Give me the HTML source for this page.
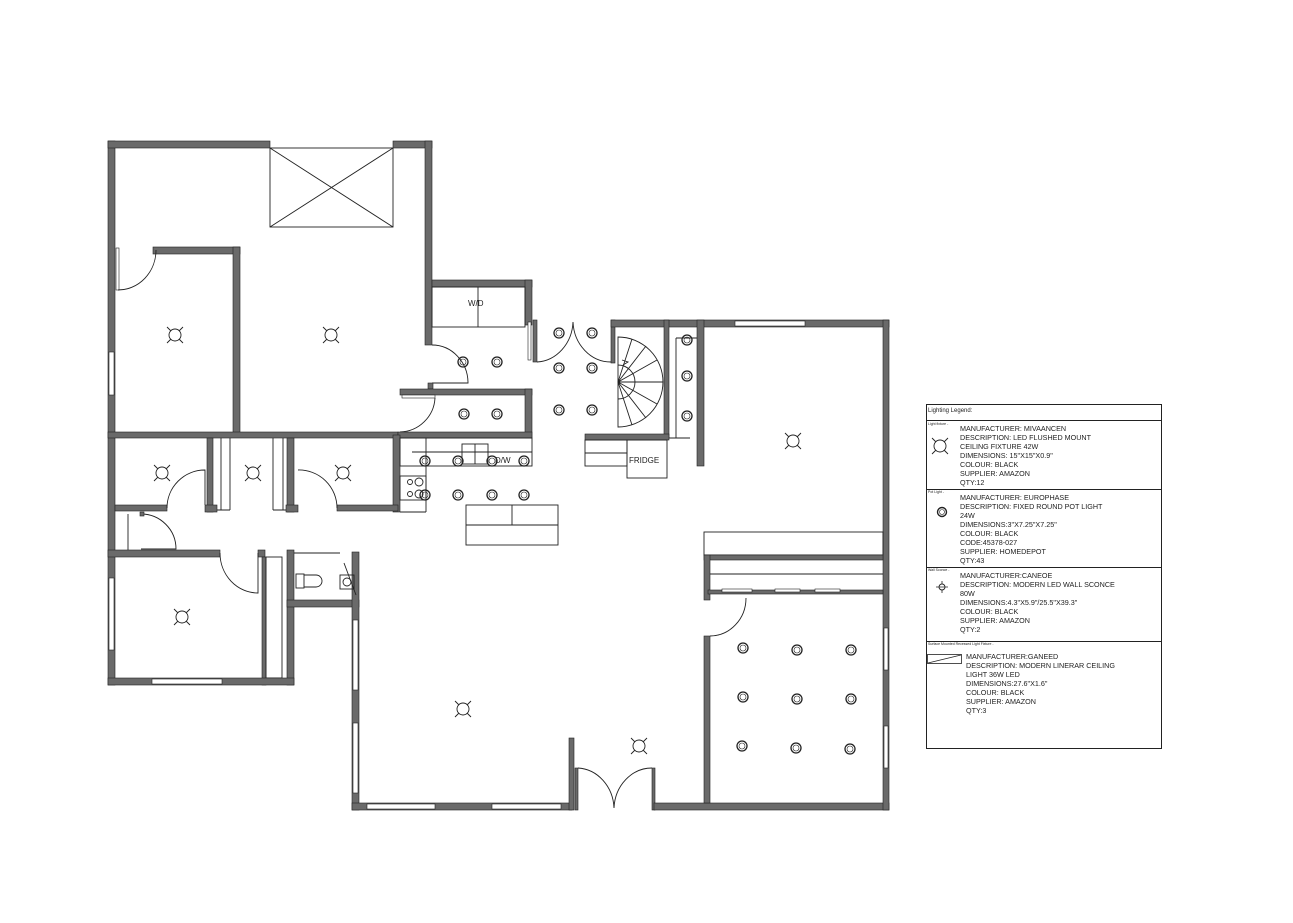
<!DOCTYPE html>
<html><head><meta charset="utf-8"><style>
html,body{margin:0;padding:0;background:#fff;}
svg{display:block;}
text{font-family:"Liberation Sans",sans-serif;fill:#222;}
.w{fill:#6a6a6a;stroke:#222;stroke-width:0.6;}
.l{fill:none;stroke:#222;stroke-width:0.9;}
.win{fill:#fff;stroke:#222;stroke-width:0.6;}
.p{fill:none;stroke:#222;stroke-width:1.1;}
</style></head><body>
<svg width="1293" height="923" viewBox="0 0 1293 923" xmlns="http://www.w3.org/2000/svg">
<defs>
<g id="fx"><circle r="6" fill="none" stroke="#222" stroke-width="0.9"/><path d="M-8,-8 L-4,-4 M8,-8 L4,-4 M-8,8 L-4,4 M8,8 L4,4" stroke="#222" stroke-width="0.9"/></g>
<g id="pl"><circle r="5" fill="none" stroke="#222" stroke-width="1.3"/><circle r="3" fill="none" stroke="#222" stroke-width="0.6"/></g>
</defs>
<rect width="1293" height="923" fill="#fff"/>

<!-- top-left block -->
<rect class="w" x="108" y="141" width="7" height="544"/>
<rect class="w" x="108" y="141" width="162" height="7"/>
<rect class="w" x="393" y="141" width="39" height="7"/>
<rect class="w" x="425" y="141" width="7" height="204"/>
<rect class="l" x="270" y="148" width="123" height="79"/>
<path class="l" d="M270,148 L393,227 M393,148 L270,227"/>
<rect class="win" x="109" y="352" width="5" height="43"/>
<rect class="w" x="153" y="247" width="87" height="7"/>
<rect class="w" x="233" y="247" width="7" height="188"/>
<rect class="win" x="116" y="248" width="3" height="42"/>
<path class="l" d="M118,290 A38,40 0 0 0 156,250"/>
<rect class="w" x="108" y="432" width="290" height="6"/>

<!-- W/D + hall -->
<rect class="w" x="432" y="280" width="100" height="7"/>
<rect class="w" x="525" y="280" width="7" height="45"/>
<rect class="l" x="432" y="287" width="93" height="40"/>
<path class="l" d="M478,287 V327"/>
<text x="468" y="306" font-size="8">W/D</text>
<rect class="win" x="528" y="322" width="3" height="38"/>
<path class="l" d="M432,345 A36,38 0 0 1 468,383 L432,383"/>
<rect class="w" x="428" y="383" width="5" height="6"/>
<rect class="w" x="400" y="389" width="132" height="6"/>
<rect class="w" x="525" y="389" width="7" height="49"/>
<rect class="win" x="402" y="395" width="33" height="3"/>
<path class="l" d="M435,398 A36,36 0 0 1 400,432"/>
<rect class="w" x="398" y="432" width="134" height="6"/>

<!-- kitchen -->
<rect class="w" x="393" y="435" width="7" height="77"/>
<rect class="l" x="400" y="438" width="132" height="28"/>
<path class="l" d="M412,452 H532 M426,452 V512 M400,512 H426 M426,438 V452"/>
<rect class="l" x="462" y="444" width="26" height="20"/>
<path class="l" d="M475,444 V464"/>
<text x="495" y="463" font-size="8">D/W</text>
<rect class="l" x="400" y="476" width="26" height="24"/>
<circle class="l" cx="419" cy="482" r="4"/><circle class="l" cx="419" cy="494" r="4"/><circle class="l" cx="410" cy="482" r="2.5"/><circle class="l" cx="410" cy="494" r="2.5"/>
<rect class="l" x="466" y="505" width="92" height="40"/>
<path class="l" d="M466,525 H558 M512,505 V525"/>

<!-- doors middle -->
<rect class="w" x="533" y="320" width="4" height="42"/>
<path class="l" d="M537,362 A38,42 0 0 0 573,322 A38,42 0 0 0 611,362"/>
<rect class="w" x="611" y="320" width="4" height="43"/>

<!-- stair + pantry -->
<rect class="w" x="611" y="320" width="278" height="7"/>
<rect class="win" x="735" y="321" width="70" height="5"/>
<rect class="w" x="664" y="320" width="5" height="118"/>
<rect class="w" x="697" y="320" width="7" height="146"/>
<path class="l" d="M676,338 H697 M676,338 V438 M669,438 H690"/>
<path class="l" d="M618,337 A45,45 0 0 1 618,427 Z"/>
<path class="l" d="M618,365 A17,17 0 0 1 618,399"/>
<path class="l" d="M618,382 L663,382 M618,382 L657,360 M618,382 L657,404 M618,382 L646,346 M618,382 L646,418 M618,382 L632,339 M618,382 L632,425"/>
<path class="l" d="M622,360 l6,2 l-5,3"/>
<rect class="w" x="585" y="434" width="84" height="6"/>
<rect class="l" x="585" y="440" width="42" height="26"/>
<path class="l" d="M585,453 H627"/>
<rect class="l" x="627" y="440" width="40" height="38"/>
<text x="629" y="463" font-size="8">FRIDGE</text>

<!-- bedroom row -->
<rect class="w" x="207" y="438" width="6" height="74"/>
<rect class="w" x="287" y="438" width="7" height="74"/>
<path class="l" d="M221,438 V510 M230,438 V510 M273,438 V510 M283,438 V510 M213,510 H230 M273,510 H287"/>
<rect class="w" x="115" y="505" width="52" height="6"/>
<rect class="w" x="205" y="505" width="12" height="7"/>
<rect class="w" x="286" y="505" width="12" height="7"/>
<rect class="w" x="337" y="505" width="61" height="6"/>
<path class="l" d="M167,508 A38,38 0 0 1 205,470 V505"/>
<path class="l" d="M298,470 A38,38 0 0 1 337,508"/>
<path class="l" d="M128,514 V550 M141,514 A35,35 0 0 1 176,549 L141,549"/>
<rect class="w" x="140" y="512" width="4" height="4"/>
<rect class="w" x="108" y="550" width="112" height="7"/>
<rect class="w" x="258" y="550" width="7" height="7"/>
<path class="l" d="M220,553 A38,40 0 0 0 258,593 V553"/>
<rect class="w" x="262" y="557" width="4" height="128"/>
<rect class="l" x="266" y="557" width="16" height="121"/>
<rect class="w" x="287" y="550" width="7" height="135"/>
<rect class="win" x="109" y="578" width="5" height="72"/>
<rect class="w" x="108" y="678" width="186" height="7"/>
<rect class="win" x="152" y="679" width="70" height="5"/>
<!-- bath -->
<path class="l" d="M294,553 H340"/>
<rect class="w" x="287" y="600" width="72" height="7"/>
<rect class="w" x="352" y="552" width="7" height="258"/>
<rect class="l" x="296" y="574" width="8" height="14"/>
<path class="l" d="M304,575 H316 A6,6 0 0 1 316,587 H304"/>
<rect class="l" x="340" y="575" width="14" height="14"/>
<circle class="l" cx="347" cy="582" r="4"/>
<path class="l" d="M344,563 L356,595"/>

<!-- living -->
<rect class="win" x="353" y="620" width="5" height="70"/>
<rect class="win" x="353" y="723" width="5" height="70"/>
<rect class="w" x="352" y="803" width="220" height="7"/>
<rect class="win" x="367" y="804" width="68" height="5"/>
<rect class="win" x="492" y="804" width="69" height="5"/>
<rect class="w" x="569" y="738" width="5" height="72"/>
<rect class="w" x="575" y="768" width="3" height="42"/>
<rect class="w" x="652" y="768" width="3" height="42"/>
<path class="l" d="M578,768 A38,42 0 0 1 614,808 A38,42 0 0 1 652,768"/>
<rect class="w" x="654" y="803" width="235" height="7"/>
<rect class="w" x="883" y="320" width="6" height="490"/>
<rect class="win" x="884" y="628" width="4" height="42"/>
<rect class="win" x="884" y="726" width="4" height="42"/>
<!-- right divider -->
<rect class="l" x="704" y="532" width="179" height="23"/>
<rect class="w" x="704" y="555" width="179" height="5"/>
<rect class="w" x="704" y="555" width="6" height="45"/>
<path class="l" d="M710,574 H883"/>
<rect class="w" x="708" y="590" width="175" height="4"/>
<rect class="win" x="722" y="589" width="30" height="3"/>
<rect class="win" x="775" y="589" width="25" height="3"/>
<rect class="win" x="815" y="589" width="25" height="3"/>
<rect class="w" x="704" y="636" width="6" height="167"/>
<path class="l" d="M710,636 A36,38 0 0 0 746,598"/>

<!-- fixtures -->
<use href="#fx" x="175" y="335"/><use href="#fx" x="331" y="335"/>
<use href="#fx" x="162" y="473"/><use href="#fx" x="253" y="473"/><use href="#fx" x="343" y="473"/>
<use href="#fx" x="182" y="617"/><use href="#fx" x="793" y="441"/>
<use href="#fx" x="463" y="709"/><use href="#fx" x="639" y="746"/>

<!-- pot lights -->
<use href="#pl" x="463" y="362"/><use href="#pl" x="497" y="362"/>
<use href="#pl" x="464" y="414"/><use href="#pl" x="497" y="414"/>
<use href="#pl" x="559" y="333"/><use href="#pl" x="592" y="333"/>
<use href="#pl" x="559" y="368"/><use href="#pl" x="592" y="368"/>
<use href="#pl" x="559" y="410"/><use href="#pl" x="592" y="410"/>
<use href="#pl" x="687" y="340"/><use href="#pl" x="687" y="376"/><use href="#pl" x="687" y="416"/>
<use href="#pl" x="425" y="461"/><use href="#pl" x="458" y="461"/><use href="#pl" x="492" y="461"/><use href="#pl" x="524" y="461"/>
<use href="#pl" x="425" y="495"/><use href="#pl" x="458" y="495"/><use href="#pl" x="492" y="495"/><use href="#pl" x="524" y="495"/>
<use href="#pl" x="743" y="648"/><use href="#pl" x="797" y="650"/><use href="#pl" x="851" y="650"/>
<use href="#pl" x="743" y="697"/><use href="#pl" x="797" y="699"/><use href="#pl" x="851" y="699"/>
<use href="#pl" x="742" y="746"/><use href="#pl" x="796" y="748"/><use href="#pl" x="850" y="749"/>

<!-- legend -->
<rect x="926.5" y="404.5" width="235" height="344" fill="none" stroke="#222" stroke-width="1"/>
<path d="M926,420.5 H1162 M926,489.5 H1162 M926,567.5 H1162 M926,641.5 H1162" stroke="#222" stroke-width="1"/>
<text x="928" y="412" font-size="6">Lighting Legend:</text>
<text x="928" y="425" font-size="3.5">Light fixture -</text>
<text x="928" y="493" font-size="3.5">Pot Light -</text>
<text x="928" y="571" font-size="3.5">Wall Sconce -</text>
<text x="928" y="645" font-size="3.5">Surface Mounted Recessed Light Fixture -</text>
<g transform="translate(940,446)"><circle r="6" fill="none" stroke="#222" stroke-width="0.9"/><path d="M-8,-8 L-4,-4 M8,-8 L4,-4 M-8,8 L-4,4 M8,8 L4,4" stroke="#222" stroke-width="0.9"/></g>
<circle cx="942" cy="512" r="4.5" fill="none" stroke="#222" stroke-width="1.4"/><circle cx="942" cy="512" r="2.5" fill="none" stroke="#222" stroke-width="0.6"/>
<circle cx="942" cy="587" r="3" fill="none" stroke="#222" stroke-width="0.9"/><path d="M936,587 H948 M942,581 V584 M942,590 V593" stroke="#222" stroke-width="0.8"/>
<rect x="927.5" y="654.5" width="34" height="9" fill="none" stroke="#222" stroke-width="0.8"/><path d="M928,663 L961,655" stroke="#222" stroke-width="0.7"/>
<g font-size="7.2">
<text x="960" y="431">MANUFACTURER: MIVAANCEN</text>
<text x="960" y="440">DESCRIPTION: LED FLUSHED MOUNT</text>
<text x="960" y="449">CEILING FIXTURE 42W</text>
<text x="960" y="458">DIMENSIONS: 15"X15"X0.9"</text>
<text x="960" y="467">COLOUR: BLACK</text>
<text x="960" y="476">SUPPLIER: AMAZON</text>
<text x="960" y="485">QTY:12</text>
<text x="960" y="500">MANUFACTURER: EUROPHASE</text>
<text x="960" y="509">DESCRIPTION: FIXED ROUND POT LIGHT</text>
<text x="960" y="518">24W</text>
<text x="960" y="527">DIMENSIONS:3"X7.25"X7.25"</text>
<text x="960" y="536">COLOUR: BLACK</text>
<text x="960" y="545">CODE:45378-027</text>
<text x="960" y="554">SUPPLIER: HOMEDEPOT</text>
<text x="960" y="563">QTY:43</text>
<text x="960" y="578">MANUFACTURER:CANEOE</text>
<text x="960" y="587">DESCRIPTION: MODERN LED WALL SCONCE</text>
<text x="960" y="596">80W</text>
<text x="960" y="605">DIMENSIONS:4.3"X5.9"/25.5"X39.3"</text>
<text x="960" y="614">COLOUR: BLACK</text>
<text x="960" y="623">SUPPLIER: AMAZON</text>
<text x="960" y="632">QTY:2</text>
<text x="966" y="659">MANUFACTURER:GANEED</text>
<text x="966" y="668">DESCRIPTION: MODERN LINERAR CEILING</text>
<text x="966" y="677">LIGHT 36W LED</text>
<text x="966" y="686">DIMENSIONS:27.6"X1.6"</text>
<text x="966" y="695">COLOUR: BLACK</text>
<text x="966" y="704">SUPPLIER: AMAZON</text>
<text x="966" y="713">QTY:3</text>
</g>
</svg>
</body></html>
